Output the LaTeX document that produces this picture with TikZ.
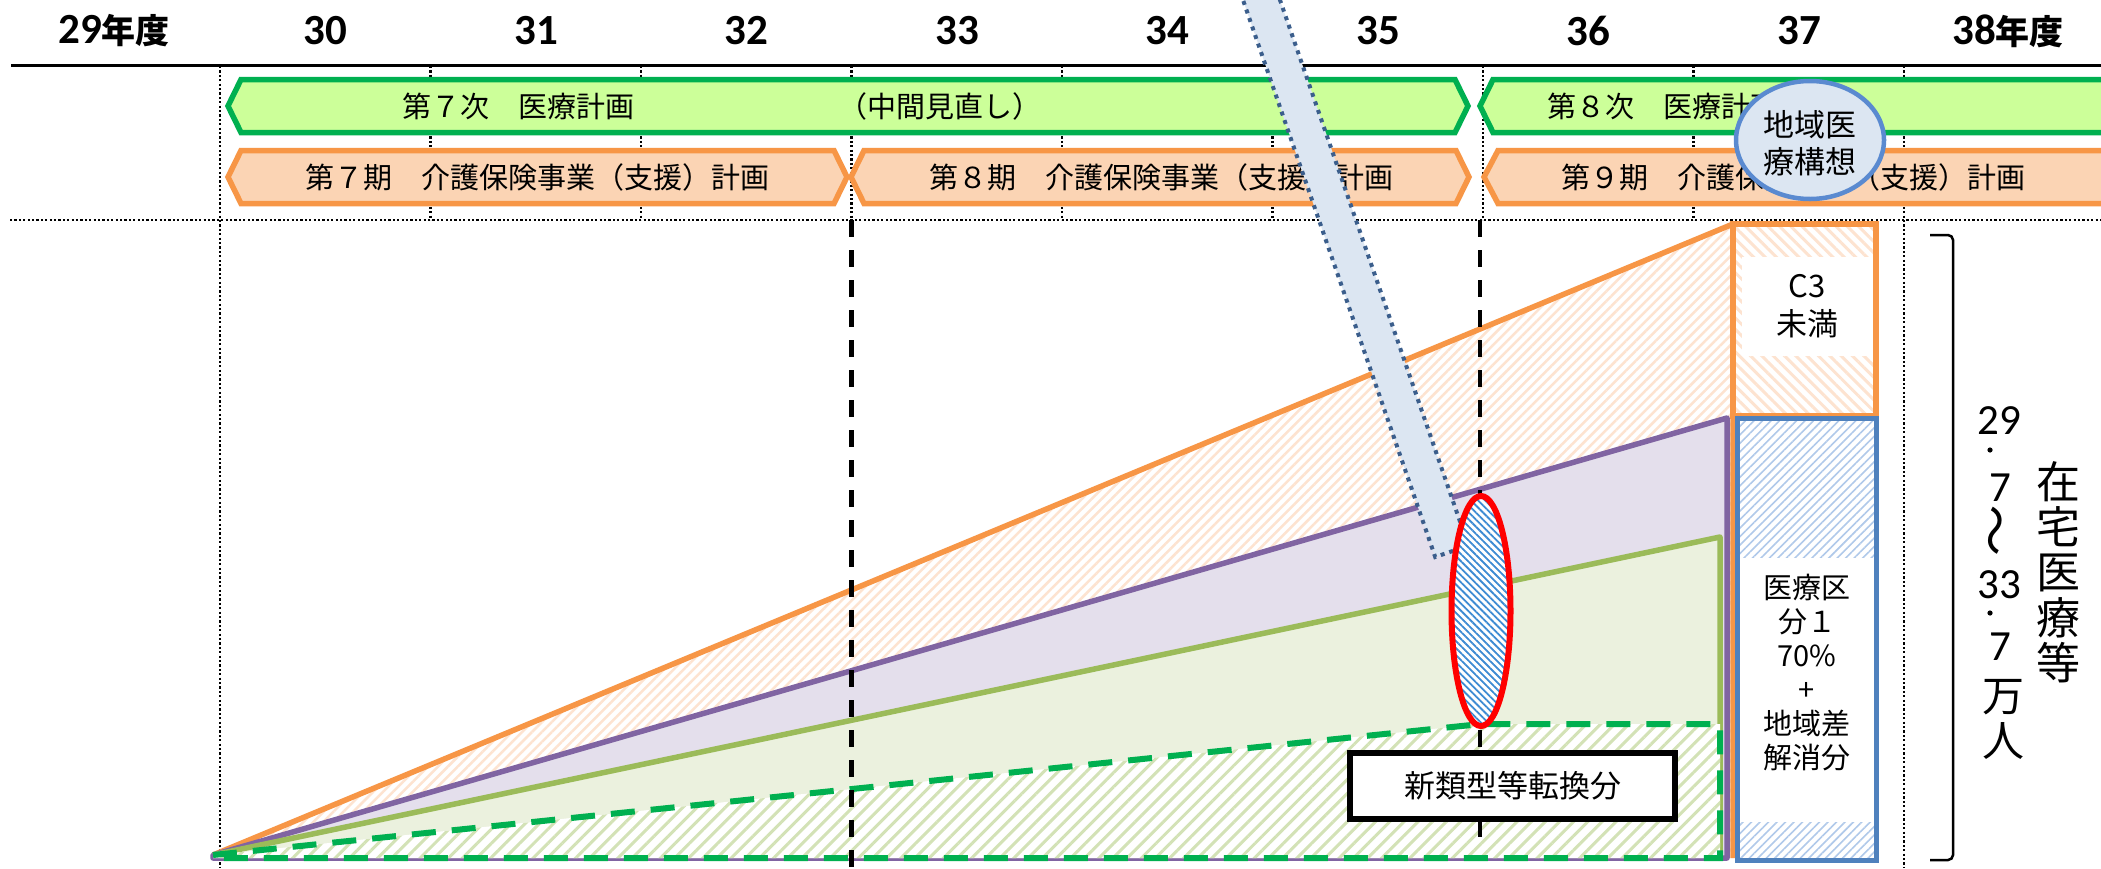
\documentclass[tikz,border=0pt]{standalone}
\usepackage{fontspec}
\setmainfont{Noto Sans CJK JP}
\newfontfamily\carl{Carlito}
\usetikzlibrary{patterns.meta}
\definecolor{bandgfill}{HTML}{CCFF99}
\definecolor{bandgline}{HTML}{00B050}
\definecolor{bandofill}{HTML}{FBD4B4}
\definecolor{bandoline}{HTML}{F79646}
\definecolor{purpline}{HTML}{8064A2}
\definecolor{purpfill}{HTML}{E4DFEC}
\definecolor{grnline}{HTML}{9BBB59}
\definecolor{grnfill}{HTML}{EBF1DE}
\definecolor{grnhatch}{HTML}{D3E2B6}
\definecolor{orhatch}{HTML}{FDE3D0}
\definecolor{bluline}{HTML}{4F81BD}
\definecolor{bluhatch}{HTML}{B0C9EA}
\definecolor{ellhatch}{HTML}{3D8BD3}
\definecolor{barfill}{HTML}{DCE6F2}
\definecolor{barline}{HTML}{3B5E8C}
\definecolor{circline}{HTML}{5A8AD0}
\newcommand\myfs[1]{\fontsize{#1}{#1}\selectfont}
\begin{document}
\begin{tikzpicture}[x=1pt,y=-1pt,
  yearlbl/.style={inner sep=0pt, font=\carl\bfseries\myfs{43}},
  bandtxt/.style={inner sep=0pt, font=\myfs{29}},
  gband/.style={fill=bandgfill, draw=bandgline, line width=5.5pt},
  oband/.style={fill=bandofill, draw=bandoline, line width=5.5pt},
  hdot/.style={line width=2.5pt, dash pattern=on 2.2pt off 2.2pt},
  blkdash/.style={line width=4.5pt, dash pattern=on 17pt off 13pt},
  ohatchA/.style={preaction={fill=white}, pattern={Lines[angle=45,distance=7pt,line width=2.5pt]}, pattern color=orhatch},
  ohatchB/.style={preaction={fill=white}, pattern={Lines[angle=-45,distance=8pt,line width=3pt]}, pattern color=orhatch},
  bhatch/.style={preaction={fill=white}, pattern={Lines[angle=45,distance=6pt,line width=1.6pt]}, pattern color=bluhatch},
  ghatch/.style={preaction={fill=white}, pattern={Lines[angle=45,distance=10pt,line width=3pt]}, pattern color=grnhatch},
  ehatch/.style={preaction={fill=white}, pattern={Lines[angle=-45,distance=5pt,line width=1.8pt]}, pattern color=ellhatch},
  arealine/.style={line width=5.5pt, line join=round},
  gdash/.style={draw=bandgline, line width=6pt, dash pattern=on 24pt off 16pt},
  collbl/.style={inner sep=0pt, align=center},
  vdig/.style={inner sep=0pt, font=\carl\myfs{43}},
]
\useasboundingbox (0,0) rectangle (2101,868);
\fill[white] (0,0) rectangle (2101,868);
\begin{scope}
\clip (0,0) rectangle (2101,868);
% header grid
\foreach \x in {220,430.5,641,851.5,1062,1272.5,1483,1693.5,1904}
  \draw[hdot] (\x,66) -- (\x,220);
\draw[line width=3pt] (11,65) -- (2101,65);
\draw[hdot] (10,220) -- (2101,220);
% year labels
\node[yearlbl] (y29) at (114,31) {29{\bfseries\rmfamily\myfs{34}年度}};
\node[yearlbl] (y30) at (325.5,31) {30};
\node[yearlbl] (y31) at (536,31) {31};
\node[yearlbl] (y32) at (746,31) {32};
\node[yearlbl] (y33) at (957,31) {33};
\node[yearlbl] (y34) at (1167,31) {34};
\node[yearlbl] (y35) at (1378,31) {35};
\node[yearlbl] (y36) at (1588,31) {36};
\node[yearlbl] (y37) at (1799,31) {37};
\node[yearlbl] (y38) at (2008,31) {38{\bfseries\rmfamily\myfs{34}年度}};
% plan bands
\path[gband] (241,79.5) -- (1455,79.5) -- (1468,106) -- (1455,132.5) -- (241,132.5) -- (228,106) -- cycle;
\path[gband] (1493,79.5) -- (2130,79.5) -- (2130,132.5) -- (1493,132.5) -- (1480,106) -- cycle;
\path[oband] (241,150.5) -- (834,150.5) -- (847,177) -- (834,203.5) -- (241,203.5) -- (228,177) -- cycle;
\path[oband] (864,150.5) -- (1456,150.5) -- (1469,177) -- (1456,203.5) -- (864,203.5) -- (851,177) -- cycle;
\path[oband] (1498,150.5) -- (2130,150.5) -- (2130,203.5) -- (1498,203.5) -- (1484,177) -- cycle;
\node[bandtxt] (g7) at (518,106) {第７次　医療計画};
\node[bandtxt] (g7m) at (940,106) {（中間見直し）};
\node[bandtxt, anchor=west] (g8) at (1547,106) {第８次　医療計画};
\node[bandtxt] (k7) at (537,177) {第７期　介護保険事業（支援）計画};
\node[bandtxt] (k8) at (1161,177) {第８期　介護保険事業（支援）計画};
\node[bandtxt] (k9) at (1793,177) {第９期　介護保険事業（支援）計画};
% lower grid, bracket, totals
\draw[hdot] (220,220) -- (220,868);
\draw[hdot] (1904,220) -- (1904,868);
\draw[line width=2.5pt, rounded corners=5pt] (1930,235) -- (1953,235) -- (1953,860) -- (1930,860);
\node[vdig] (n29) at (1999,421) {29};
\fill (1990,450) circle (2.6pt);
\node[vdig] (n7a) at (2000,488) {7};
\node[inner sep=0pt, font=\myfs{46}] (til) at (2001,531) {\rotatebox{90}{\scalebox{1.12}[1.1]{～}}};
\node[vdig] (n33) at (1999,585) {33};
\fill (1990,613) circle (2.6pt);
\node[vdig] (n7b) at (2000,647) {7};
\node[inner sep=0pt, font=\myfs{42}] (man) at (2003,697) {万};
\node[inner sep=0pt, font=\myfs{42}] (nin) at (2003,741) {人};
\node[inner sep=0pt, align=center, font=\fontsize{44}{45.25}\selectfont] (zaitaku) at (2058,572) {在\\宅\\医\\療\\等};
% areas
\coordinate (O) at (213,855);
\coordinate (lbot) at (213,858);
\coordinate (otop) at (1733,224);
\coordinate (obot) at (1733,858);
\coordinate (ptop) at (1727,418);
\coordinate (pbot) at (1727,858);
\coordinate (gtop) at (1720,537);
\coordinate (gbot) at (1720,858);
\coordinate (dmid) at (1481,724);
\coordinate (dtop) at (1720,724);
\path[ohatchA] (O) -- (otop) -- (obot) -- (lbot) -- cycle;
\draw[arealine, draw=bandoline] (O) -- (otop) -- (obot);
\fill[purpfill] (O) -- (ptop) -- (pbot) -- (lbot) -- cycle;
\draw[arealine, draw=purpline] (O) -- (ptop) -- (pbot) -- (lbot) -- cycle;
\fill[grnfill] (O) -- (gtop) -- (gbot) -- (lbot) -- cycle;
\draw[arealine, draw=grnline] (O) -- (gtop) -- (gbot);
\path[ghatch] (O) -- (dmid) -- (dtop) -- (gbot) -- (lbot) -- cycle;
\draw[gdash] (O) -- (dmid) -- (dtop) -- (gbot) -- (lbot) -- cycle;
% period boundaries
\draw[blkdash] (851.5,220) -- (851.5,868);
\draw[blkdash] (1480,220) -- (1480,842);
% right columns
\path[ohatchB] (1733,224) rectangle (1876,416);
\fill[white] (1742,257) rectangle (1873,356);
\draw[bandoline, line width=5.5pt] (1733,224) rectangle (1876,416);
\node[collbl, font=\fontsize{31}{38}\selectfont] (c3) at (1807,306) {C3\\未満};
\path[bhatch] (1737,418) rectangle (1876,860);
\fill[white] (1739,558) rectangle (1874,822);
\draw[bluline, line width=5pt] (1737,418) rectangle (1876,860);
\node[collbl, font=\fontsize{29}{34}\selectfont] (kubun) at (1807,673) {医療区\\分１\\70\%\\+\\地域差\\解消分};
% callout bar
\path[fill=barfill, draw=barline, line width=4pt, dash pattern=on 4pt off 5pt]
  (1225.75,-50) -- (1435.2,557) -- (1468.3,545.6) -- (1258.8,-61.4) -- cycle;
% ellipse
\path[ehatch] (1481,611) ellipse [x radius=29.5pt, y radius=115pt];
\draw[red, line width=6pt] (1481,611) ellipse [x radius=29.5pt, y radius=115pt];
% vision circle
\draw[fill=barfill, draw=circline, line width=4.5pt] (1810,140) ellipse [x radius=74pt, y radius=59pt];
\node[collbl, font=\fontsize{31}{37}\selectfont] (kousou) at (1810,143) {地域医\\療構想};
% conversion box
\node[draw=black, fill=white, line width=6pt, minimum width=325pt, minimum height=66pt, inner sep=0pt, font=\myfs{31}] (shin) at (1512.5,786) {新類型等転換分};
\end{scope}
\end{tikzpicture}
\end{document}
